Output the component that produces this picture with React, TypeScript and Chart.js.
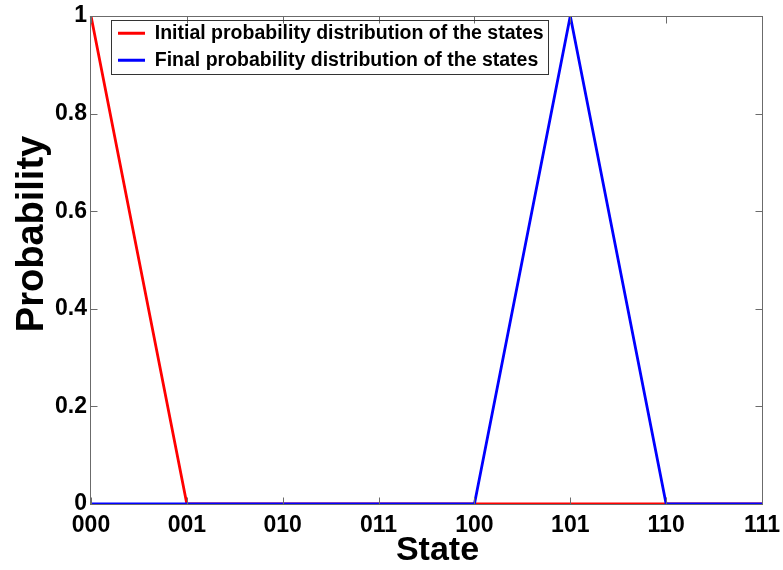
import React, { useEffect, useRef } from "react";
import { Chart, registerables } from "chart.js";

Chart.register(...registerables);

const STATES = ["000", "001", "010", "011", "100", "101", "110", "111"];
const INITIAL = [1, 0, 0, 0, 0, 0, 0, 0];
const FINAL = [0, 0, 0, 0, 0, 1, 0, 0];
const Y_TICK_VALUES = [0, 0.2, 0.4, 0.6, 0.8, 1];
const Y_TICK_LABELS = ["0", "0.2", "0.4", "0.6", "0.8", "1"];
const SERIES_NAMES = [
  "Initial probability distribution of the states",
  "Final probability distribution of the states",
];
const X_TITLE = "State";
const Y_TITLE = "Probability";

const FONT = '"Liberation Sans", Arial, Helvetica, sans-serif';
const LEG_FONT_SIZE = 19.5;
const LEG_PAD = 7.5;
const LEG_BOX_W = 27;

const framePlugin = {
  id: "matlabFrame",
  afterLayout(chart: any) {
    const lg = chart.legend;
    const a = chart.chartArea;
    if (lg && a) {
      const w = lg.width;
      const h = lg.height;
      lg.left = a.left + 19.5;
      lg.right = lg.left + w;
      lg.top = a.top;
      lg.bottom = a.top + h;
    }
  },
  afterDraw(chart: any) {
    const { ctx, chartArea: a, scales } = chart;
    const x = scales.x;
    const y = scales.y;
    ctx.save();
    // axes box
    ctx.strokeStyle = "#6b6b6b";
    ctx.lineWidth = 1;
    const L = Math.floor(a.left) - 0.5;
    const R = Math.floor(a.right) + 0.5;
    const T = Math.floor(a.top) + 0.5;
    const B = Math.floor(a.bottom) + 0.5;
    ctx.strokeRect(L, T, R - L, B - T);
    // inward ticks
    ctx.beginPath();
    const tl = 7;
    x.ticks.forEach((_: any, i: number) => {
      const px = Math.round(x.getPixelForTick(i)) + 0.5;
      ctx.moveTo(px, B);
      ctx.lineTo(px, B - tl);
      ctx.moveTo(px, T);
      ctx.lineTo(px, T + tl);
    });
    y.ticks.forEach((_: any, i: number) => {
      const py = Math.round(y.getPixelForTick(i)) + 0.5;
      ctx.moveTo(L, py);
      ctx.lineTo(L + tl, py);
      ctx.moveTo(R, py);
      ctx.lineTo(R - tl, py);
    });
    ctx.stroke();

    // legend frame
    const lg = chart.legend;
    if (lg) {
      ctx.font = `bold ${LEG_FONT_SIZE}px ${FONT}`;
      const tw = Math.max(...SERIES_NAMES.map((s) => ctx.measureText(s).width));
      const left = Math.round(lg.left) + 0.5;
      const right = Math.round(lg.left + LEG_PAD + LEG_BOX_W + LEG_FONT_SIZE / 2 + tw + 4) + 0.5;
      const top = Math.round(a.top) + 4.5;
      const bottom = top + 54;
      ctx.strokeStyle = "#333";
      ctx.strokeRect(left, top, right - left, bottom - top);
    }

    // axis titles
    ctx.fillStyle = "#000";
    ctx.textBaseline = "alphabetic";
    ctx.textAlign = "center";
    ctx.font = `bold 34px ${FONT}`;
    ctx.fillText(X_TITLE, (a.left + a.right) / 2 + 11, a.bottom + 56);
    ctx.save();
    ctx.translate(a.left - 48, (a.top + a.bottom) / 2 - 26);
    ctx.rotate(-Math.PI / 2);
    ctx.font = `bold 38px ${FONT}`;
    ctx.fillText(Y_TITLE, 0, 0);
    ctx.restore();
    ctx.restore();
  },
};

export default function App() {
  const ref = useRef<HTMLCanvasElement | null>(null);

  useEffect(() => {
    if (!ref.current) return;
    const chart = new Chart(ref.current, {
      type: "line",
      data: {
        labels: STATES,
        datasets: [
          {
            label: SERIES_NAMES[0],
            data: INITIAL,
            borderColor: "#ff0000",
            backgroundColor: "#ff0000",
            borderWidth: 2.8,
            pointRadius: 0,
            tension: 0,
            order: 2,
          },
          {
            label: SERIES_NAMES[1],
            data: FINAL,
            borderColor: "#0000ff",
            backgroundColor: "#0000ff",
            borderWidth: 2.8,
            pointRadius: 0,
            tension: 0,
            order: 1,
          },
        ],
      },
      options: {
        animation: false,
        responsive: false,
        maintainAspectRatio: false,
        layout: { padding: { top: 16, right: 21, left: 0, bottom: 0 } },
        plugins: {
          tooltip: { enabled: false },
          legend: {
            position: "chartArea" as any,
            align: "start",
            labels: {
              font: { family: FONT, size: LEG_FONT_SIZE, weight: "bold" },
              color: "#000",
              padding: LEG_PAD,
              usePointStyle: true,
              pointStyle: "line",
              pointStyleWidth: LEG_BOX_W,
              boxWidth: LEG_BOX_W,
              sort: (a: any, b: any) => a.datasetIndex - b.datasetIndex,
            },
          },
        },
        scales: {
          x: {
            type: "category",
            offset: false,
            grid: { display: false, drawTicks: false },
            border: { display: false },
            afterFit: (s: any) => {
              s.height = 66;
              s.paddingLeft = 0;
              s.paddingRight = 0;
            },
            ticks: {
              autoSkip: false,
              maxRotation: 0,
              padding: 8,
              color: "#000",
              font: { family: FONT, size: 23, weight: "bold" },
            },
          },
          y: {
            min: 0,
            max: 1,
            grid: { display: false, drawTicks: false },
            border: { display: false },
            afterFit: (s: any) => {
              s.width = 91;
              s.paddingTop = 0;
              s.paddingBottom = 0;
            },
            afterBuildTicks: (s: any) => {
              s.ticks = Y_TICK_VALUES.map((v) => ({ value: v }));
            },
            ticks: {
              padding: 4,
              color: "#000",
              font: { family: FONT, size: 23, weight: "bold" },
              callback: (v: any) => {
                const i = Y_TICK_VALUES.findIndex((t) => Math.abs(t - Number(v)) < 1e-9);
                return i >= 0 ? Y_TICK_LABELS[i] : "";
              },
            },
          },
        },
      },
      plugins: [framePlugin],
    });
    return () => chart.destroy();
  }, []);

  return (
    <div
      style={{
        position: "absolute",
        left: 0,
        top: 0,
        width: 783,
        height: 570,
        background: "#fff",
      }}
    >
      <canvas ref={ref} width={783} height={570} />
    </div>
  );
}
